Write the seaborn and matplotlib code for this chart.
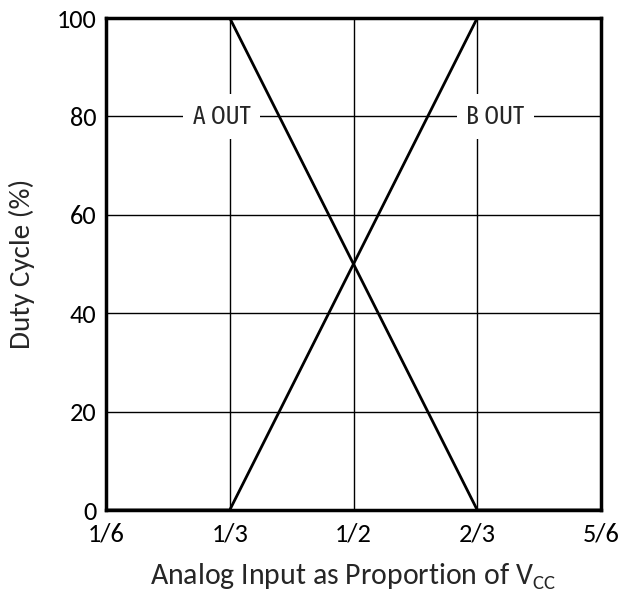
import matplotlib
matplotlib.use("Agg")
import matplotlib.pyplot as plt
import seaborn as sns
import pandas as pd

x_vals = [1/6, 1/3, 2/3, 5/6]
a_out = [100, 100, 0, 0]
b_out = [0, 0, 100, 100]
x_ticks = [1/6, 1/3, 1/2, 2/3, 5/6]
x_labels = ["1/6", "1/3", "1/2", "2/3", "5/6"]
y_ticks = [0, 20, 40, 60, 80, 100]

df = pd.DataFrame({
    "x": x_vals * 2,
    "y": a_out + b_out,
    "series": ["A OUT"] * 4 + ["B OUT"] * 4,
})

sns.set_style("white")
plt.rcParams['font.family'] = ['Carlito', 'Lato', 'DejaVu Sans']

fig = plt.figure(figsize=(6.24, 6.01), dpi=100)
ax = fig.add_axes([106/624, 1 - 510/601, 495/624, 492/601])

sns.lineplot(data=df, x="x", y="y", units="series", estimator=None,
             color="black", lw=2, ax=ax, legend=False, zorder=3)

ax.set_xlim(1/6, 5/6)
ax.set_ylim(0, 100)
ax.set_xticks(x_ticks)
ax.set_xticklabels(x_labels)
ax.set_yticks(y_ticks)
ax.grid(True, color="black", lw=1)
ax.tick_params(axis="both", length=0, labelsize=19, colors="black")
ax.tick_params(axis="x", pad=9)
ax.tick_params(axis="y", pad=7)
for s in ax.spines.values():
    s.set_visible(True)
    s.set_color("black")
    s.set_linewidth(2.5)

ax.set_xlabel("Analog Input as Proportion of V$_{\\mathregular{CC}}$", fontsize=21.5, labelpad=12)
ax.set_ylabel("Duty Cycle (%)", fontsize=21, labelpad=10)
ax.yaxis.set_label_coords(-0.143, 0.5)

lab_font = ['Fira Sans Extra Condensed', 'Archivo Narrow', 'DejaVu Sans']
ax.text(0.3222, 80, "A OUT", ha="center", va="center", fontsize=18.5, family=lab_font,
        bbox=dict(facecolor="white", edgecolor="none", pad=7), zorder=4)
ax.text(0.6912, 80, "B OUT", ha="center", va="center", fontsize=18.5, family=lab_font,
        bbox=dict(facecolor="white", edgecolor="none", pad=7), zorder=4)

fig.savefig("out.png", dpi=100)
